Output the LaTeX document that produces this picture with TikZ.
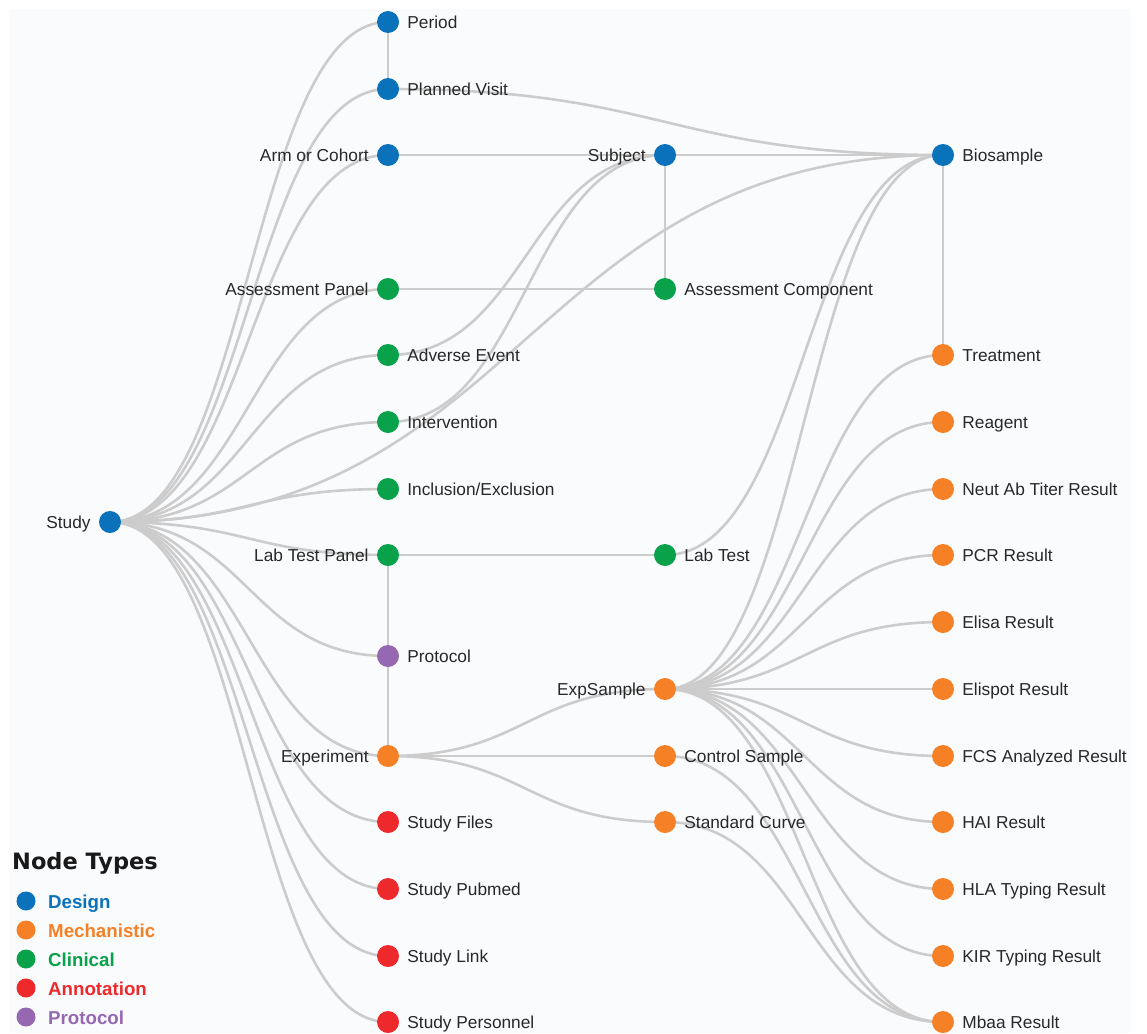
\documentclass[tikz,border=0pt]{standalone}
\usepackage{fontspec}
\setmainfont{Liberation Sans}
\newfontfamily\dvsans{DejaVu Sans}
\usetikzlibrary{calc}
\pgfdeclarelayer{background}
\pgfsetlayers{background,main}
\definecolor{design}{RGB}{10,114,186}
\definecolor{mech}{RGB}{245,128,37}
\definecolor{clin}{RGB}{10,161,75}
\definecolor{annot}{RGB}{237,41,43}
\definecolor{proto}{RGB}{150,104,178}
\definecolor{edgegray}{RGB}{204,204,204}
\definecolor{txt}{RGB}{40,40,40}
\definecolor{bgc}{RGB}{250,251,253}
\newcommand\lnk[2]{\draw[edge] let \p1=(#1),\p2=(#2) in (\p1) .. controls ({(\x1+\x2)/2},\y1) and ({(\x1+\x2)/2},\y2) .. (\p2);}
\tikzset{
  dot/.style={circle, minimum size=22pt, inner sep=0pt, fill=#1},
  ldot/.style={circle, minimum size=19pt, inner sep=0pt, fill=#1},
  lbl/.style={font=\fontsize{17.3}{20}\selectfont, text=txt, inner sep=0pt},
  rl/.style={label={[lbl,anchor=base west,xshift=8pt,yshift=-6.2pt]east:#1}},
  ll/.style={label={[lbl,anchor=base east,xshift=-8pt,yshift=-6.2pt]west:#1}},
  edge/.style={draw=edgegray, line width=2.6pt},
  legtxt/.style={font=\fontsize{18.7}{22}\selectfont\bfseries, inner sep=0pt, anchor=base west, text=#1},
}
\begin{document}
\begin{tikzpicture}[x=1pt,y=-1pt]
\useasboundingbox (0,0) rectangle (1147,1033);
% column 1
\node[dot=design, ll=Study] (study) at (110,522) {};
% column 2
\node[dot=design, rl=Period] (period) at (388,22) {};
\node[dot=design, rl=Planned Visit] (pvisit) at (388,89) {};
\node[dot=design, ll=Arm or Cohort] (arm) at (388,155) {};
\node[dot=clin, ll=Assessment Panel] (apanel) at (388,289) {};
\node[dot=clin, rl=Adverse Event] (adverse) at (388,355) {};
\node[dot=clin, rl=Intervention] (interv) at (388,422) {};
\node[dot=clin, rl=Inclusion/Exclusion] (incl) at (388,489) {};
\node[dot=clin, ll=Lab Test Panel] (ltpanel) at (388,555) {};
\node[dot=proto, rl=Protocol] (protocol) at (388,656) {};
\node[dot=mech, ll=Experiment] (experiment) at (388,756) {};
\node[dot=annot, rl=Study Files] (files) at (388,822) {};
\node[dot=annot, rl=Study Pubmed] (pubmed) at (388,889) {};
\node[dot=annot, rl=Study Link] (slink) at (388,956) {};
\node[dot=annot, rl=Study Personnel] (personnel) at (388,1022) {};
% column 3
\node[dot=design, ll=Subject] (subject) at (665,155) {};
\node[dot=clin, rl=Assessment Component] (acomp) at (665,289) {};
\node[dot=clin, rl=Lab Test] (labtest) at (665,555) {};
\node[dot=mech, ll=ExpSample] (expsample) at (665,689) {};
\node[dot=mech, rl=Control Sample] (ctrl) at (665,756) {};
\node[dot=mech, rl=Standard Curve] (stdcurve) at (665,822) {};
% column 4
\node[dot=design, rl=Biosample] (biosample) at (943,155) {};
\node[dot=mech, rl=Treatment] (treatment) at (943,355) {};
\node[dot=mech, rl=Reagent] (reagent) at (943,422) {};
\node[dot=mech, rl=Neut Ab Titer Result] (neut) at (943,489) {};
\node[dot=mech, rl=PCR Result] (pcr) at (943,555) {};
\node[dot=mech, rl=Elisa Result] (elisa) at (943,622) {};
\node[dot=mech, rl=Elispot Result] (elispot) at (943,689) {};
\node[dot=mech, rl=FCS Analyzed Result] (fcs) at (943,756) {};
\node[dot=mech, rl=HAI Result] (hai) at (943,822) {};
\node[dot=mech, rl=HLA Typing Result] (hla) at (943,889) {};
\node[dot=mech, rl=KIR Typing Result] (kir) at (943,956) {};
\node[dot=mech, rl=Mbaa Result] (mbaa) at (943,1022) {};
% legend
\node[font=\dvsans\fontsize{22.5}{26}\selectfont\bfseries, inner sep=0pt, anchor=base west, text=black!90] (legtitle) at (12,869) {Node Types};
\node[ldot=design] (lg1) at (26,901) {};
\node[ldot=mech] (lg2) at (26,930) {};
\node[ldot=clin] (lg3) at (26,959) {};
\node[ldot=annot] (lg4) at (26,988) {};
\node[ldot=proto] (lg5) at (26,1017) {};
\node[legtxt=design] (lt1) at (48,908) {Design};
\node[legtxt=mech] (lt2) at (48,937) {Mechanistic};
\node[legtxt=clin] (lt3) at (48,966) {Clinical};
\node[legtxt=annot] (lt4) at (48,995) {Annotation};
\node[legtxt=proto] (lt5) at (48,1024) {Protocol};
\begin{pgfonlayer}{background}
\fill[white] (0,0) rectangle (1147,1033);
\fill[bgc] (10,9) rectangle (1131,1033);
\foreach \t in {period,pvisit,arm,apanel,adverse,interv,incl,ltpanel,protocol,experiment,files,pubmed,slink,personnel,biosample}{\lnk{study}{\t}}
\lnk{period}{pvisit}
\lnk{pvisit}{biosample}
\lnk{arm}{subject}
\lnk{subject}{biosample}
\lnk{subject}{acomp}
\lnk{apanel}{acomp}
\lnk{adverse}{subject}
\lnk{interv}{subject}
\lnk{ltpanel}{labtest}
\lnk{ltpanel}{protocol}
\lnk{protocol}{experiment}
\lnk{labtest}{biosample}
\lnk{experiment}{expsample}
\lnk{experiment}{ctrl}
\lnk{experiment}{stdcurve}
\lnk{biosample}{treatment}
\foreach \t in {biosample,treatment,reagent,neut,pcr,elisa,elispot,fcs,hai,hla,kir,mbaa}{\lnk{expsample}{\t}}
\lnk{ctrl}{mbaa}
\lnk{stdcurve}{mbaa}
\end{pgfonlayer}
\end{tikzpicture}
\end{document}
